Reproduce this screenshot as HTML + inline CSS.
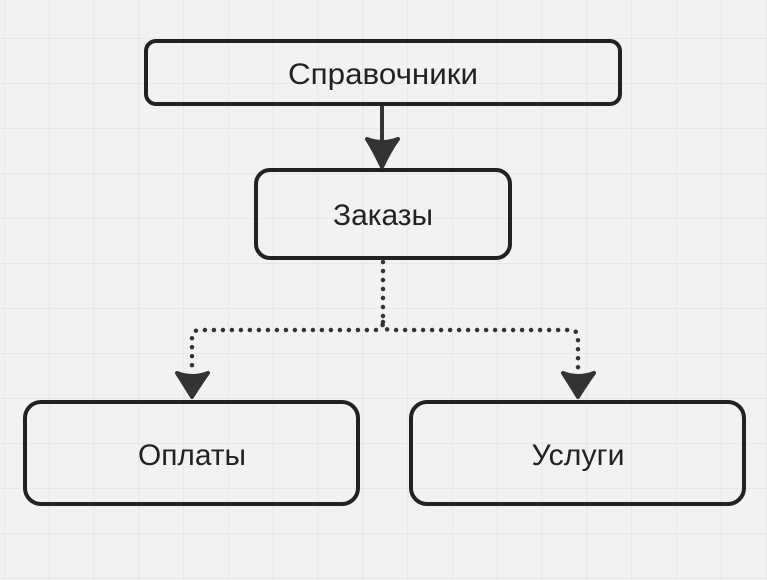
<!DOCTYPE html>
<html><head><meta charset="utf-8"><style>
html,body{margin:0;padding:0;background:#f2f2f2;}
svg{display:block;}
text{font-family:"Liberation Sans","DejaVu Sans",sans-serif;fill:#222;}
</style></head><body>
<svg width="767" height="580" viewBox="0 0 767 580" xmlns="http://www.w3.org/2000/svg">
<defs>
<pattern id="g" width="44.8" height="45" patternUnits="userSpaceOnUse" x="4" y="38">
<path d="M0 0H44.8M0 0V45" stroke="#e4e4e4" stroke-width="1.5" fill="none"/>
</pattern>
</defs>
<rect width="767" height="580" fill="#f2f2f2"/>
<rect width="767" height="580" fill="url(#g)"/>
<g fill="none" stroke="#222" stroke-width="4">
<rect x="146" y="41" width="474" height="63" rx="10"/>
<rect x="256" y="170" width="254" height="88" rx="14"/>
<rect x="25" y="402" width="333" height="102" rx="16"/>
<rect x="411" y="402" width="333" height="102" rx="16"/>
</g>
<line x1="382" y1="106" x2="382" y2="145" stroke="#333" stroke-width="4"/>
<path d="M367 139 Q382 145 398 139 Q390 150 382 167 Q374 150 367 139 Z" fill="#333" stroke="#333" stroke-width="4" stroke-linejoin="round"/>
<g fill="none" stroke="#333" stroke-width="4.5" stroke-linecap="round" stroke-dasharray="0 9">
<path d="M383 262 V322 Q383 330 375 330 H200 Q192 330 192 338 V372"/>
<path d="M383 322 Q383 330 391 330 H570 Q578 330 578 338 V372"/>
</g>
<path d="M177 373 Q192 379 208 373 Q200 384 192 397 Q184 384 177 373 Z" fill="#333" stroke="#333" stroke-width="4" stroke-linejoin="round"/>
<path d="M563 373 Q578 379 594 373 Q586 384 578 397 Q570 384 563 373 Z" fill="#333" stroke="#333" stroke-width="4" stroke-linejoin="round"/>
<text x="383" y="84" font-size="30" text-anchor="middle" textLength="190" lengthAdjust="spacingAndGlyphs">Справочники</text>
<text x="383" y="225" font-size="30" text-anchor="middle" textLength="100" lengthAdjust="spacingAndGlyphs">Заказы</text>
<text x="192" y="465" font-size="30" text-anchor="middle" textLength="108" lengthAdjust="spacingAndGlyphs">Оплаты</text>
<text x="578" y="465" font-size="30" text-anchor="middle" textLength="93" lengthAdjust="spacingAndGlyphs">Услуги</text>
</svg>
</body></html>
